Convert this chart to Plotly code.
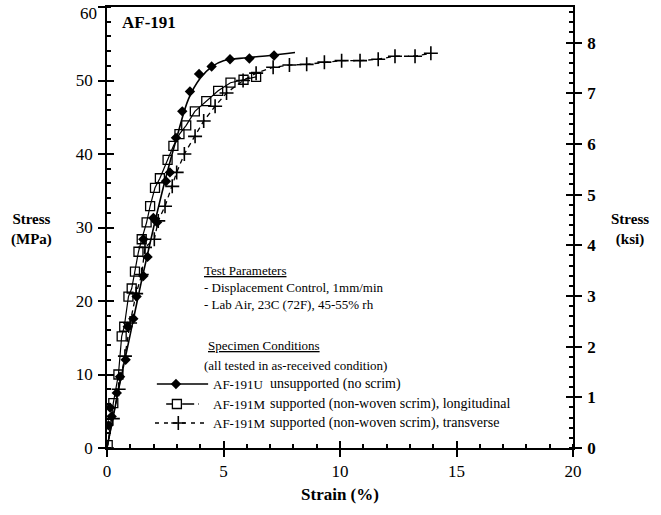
import plotly.graph_objects as go

# ---- data ----
u_x = [0.06, 0.2, 0.13, 0.42, 0.56, 0.8, 0.89, 1.13, 1.27, 1.56, 1.74, 1.56, 2.15, 1.99, 2.53, 2.7, 2.96, 3.23, 3.56, 3.95, 4.49, 5.28, 6.11, 7.17]
u_y = [3.1, 4.3, 5.5, 7.5, 9.7, 12.0, 16.5, 17.6, 20.6, 23.4, 26.0, 28.4, 30.7, 31.3, 36.3, 37.5, 42.2, 45.8, 48.5, 50.9, 51.9, 52.9, 53.0, 53.4]
u_fit_x = [0, 0.5, 1.0, 1.5, 2.0, 2.5, 3.0, 3.5, 4.0, 4.5, 5.0, 6.0, 7.0, 8.07]
u_fit_y = [0, 8.0, 15.5, 23.0, 30.0, 36.5, 42.3, 47.5, 50.3, 51.9, 52.7, 53.1, 53.4, 53.8]

ml_x = [0.03, 0.27, 0.49, 0.63, 0.74, 0.92, 1.06, 1.2, 1.35, 1.49, 1.7, 1.85, 2.06, 2.27, 2.6, 2.85, 3.11, 3.4, 3.77, 4.26, 4.77, 5.3, 5.86, 6.4]
ml_y = [0.4, 6.1, 10.0, 15.2, 16.5, 20.6, 21.7, 24.0, 26.7, 28.4, 30.7, 32.9, 35.4, 36.7, 39.2, 41.1, 42.7, 43.9, 45.8, 47.2, 48.6, 49.7, 50.1, 50.5]

mt_x = [0.0, 0.25, 0.5, 0.77, 0.99, 1.25, 1.49, 1.63, 2.03, 2.2, 2.49, 2.8, 2.99, 3.32, 3.78, 4.15, 4.64, 5.13, 5.84, 6.4, 7.13, 7.83, 8.57, 9.33, 10.07, 10.86, 11.64, 12.36, 13.22, 13.9]
mt_y = [0.0, 4.0, 8.0, 12.5, 17.0, 21.0, 23.6, 27.3, 28.4, 30.9, 32.9, 35.6, 37.5, 40.0, 42.4, 44.5, 46.5, 48.3, 50.0, 51.0, 51.8, 52.1, 52.2, 52.5, 52.7, 52.7, 52.9, 53.3, 53.3, 53.7]

x_ticks = [0, 5, 10, 15, 20]
mpa_ticks = [0, 10, 20, 30, 40, 50, 60]
mpa_labels = ["0", "10", "20", "30", "40", "50", ""]   # "60" drawn separately, just below the top edge
ksi_ticks = [0, 1, 2, 3, 4, 5, 6, 7, 8]
MPA_PER_KSI = 6.895

SERIF = "Liberation Serif"
fig = go.Figure()

fig.add_trace(go.Scatter(x=u_fit_x, y=u_fit_y, mode="lines", line=dict(color="black", width=1.6), line_shape="spline", showlegend=False))
fig.add_trace(go.Scatter(x=u_x, y=u_y, mode="markers", marker=dict(symbol="diamond", size=8, color="black"), showlegend=False))
fig.add_trace(go.Scatter(x=ml_x, y=ml_y, mode="lines+markers", line=dict(color="black", width=1.2),
                         marker=dict(symbol="square-open", size=9, color="black", line=dict(width=1.3)), showlegend=False))
fig.add_trace(go.Scatter(x=mt_x, y=mt_y, mode="lines+markers", line=dict(color="black", width=1.3, dash="5px,4px"),
                         marker=dict(symbol="cross-thin-open", size=10, color="black", line=dict(width=1.6, color="black")), showlegend=False))

# legend samples on a paper-like overlay axis
leg_y = [0.145, 0.0998, 0.0567]
fig.add_trace(go.Scatter(x=[0.107, 0.217], y=[leg_y[0]] * 2, mode="lines", line=dict(color="black", width=1.5), xaxis="x4", yaxis="y4", showlegend=False))
fig.add_trace(go.Scatter(x=[0.148], y=[leg_y[0]], mode="markers", marker=dict(symbol="diamond", size=8, color="black"), xaxis="x4", yaxis="y4", showlegend=False))
fig.add_trace(go.Scatter(x=[0.127, 0.197], y=[leg_y[1]] * 2, mode="lines", line=dict(color="black", width=1.3, dash="12px,4px"), xaxis="x4", yaxis="y4", showlegend=False))
fig.add_trace(go.Scatter(x=[0.150], y=[leg_y[1]], mode="markers", marker=dict(symbol="square", size=9, color="white", line=dict(width=1.3, color="black")), xaxis="x4", yaxis="y4", showlegend=False))
fig.add_trace(go.Scatter(x=[0.103, 0.217], y=[leg_y[2]] * 2, mode="lines", line=dict(color="black", width=1.3, dash="4px,5px"), xaxis="x4", yaxis="y4", showlegend=False))
fig.add_trace(go.Scatter(x=[0.153], y=[leg_y[2]], mode="markers", marker=dict(symbol="cross-thin-open", size=10, color="black", line=dict(width=1.6, color="black")), xaxis="x4", yaxis="y4", showlegend=False))

tickfont = dict(family=SERIF, size=17, color="black")
boldtick = dict(family=SERIF, size=17, color="black", weight="bold")

fig.update_layout(
    width=661, height=515,
    margin=dict(l=107, r=88, t=7, b=67, autoexpand=False),
    paper_bgcolor="white", plot_bgcolor="white",
    xaxis=dict(range=[0, 20], tickvals=x_ticks, ticks="outside", ticklen=7, tickwidth=1.5, tickcolor="black",
               showline=True, linecolor="black", linewidth=1.5, mirror=True, showgrid=False, zeroline=False,
               tickfont=tickfont, ticklabelstandoff=0, automargin=False, ticklabeloverflow="allow",
               minor=dict(dtick=1, ticks="inside", ticklen=4, tickcolor="black", showgrid=False),
               title=dict(text="<b>Strain (%)</b>", font=dict(family=SERIF, size=17, color="black"), standoff=8)),
    yaxis=dict(range=[0, 60], tickvals=mpa_ticks, ticktext=mpa_labels, ticks="outside", ticklen=7, tickwidth=1.5, tickcolor="black",
               showline=True, linecolor="black", linewidth=1.5, showgrid=False, zeroline=False,
               tickfont=tickfont, ticklabelstandoff=2, automargin=False, ticklabeloverflow="allow",
               minor=dict(dtick=2, ticks="inside", ticklen=4, tickcolor="black", showgrid=False)),
    yaxis2=dict(range=[0, 60 / MPA_PER_KSI], tickvals=ksi_ticks, overlaying="y", side="right", anchor="x",
                ticks="outside", ticklen=7, tickwidth=1.5, tickcolor="black", automargin=False,
                showline=True, linecolor="black", linewidth=1.5, showgrid=False, zeroline=False,
                tickfont=boldtick, ticklabelstandoff=2, ticklabeloverflow="allow",
                minor=dict(dtick=0.2, ticks="inside", ticklen=4, tickcolor="black", showgrid=False)),
    xaxis3=dict(range=[0, 20], tickvals=x_ticks, overlaying="x", anchor="y", ticks="inside", ticklen=7, tickwidth=1.5,
                tickcolor="black", showticklabels=False, showgrid=False, zeroline=False, showline=False),
    yaxis3=dict(range=[0, 60], tickvals=mpa_ticks, overlaying="y", anchor="x", ticks="inside", ticklen=7, tickwidth=1.5,
                tickcolor="black", showticklabels=False, showgrid=False, zeroline=False, showline=False),
    yaxis5=dict(range=[0, 60 / MPA_PER_KSI], tickvals=ksi_ticks, overlaying="y", side="right", anchor="x",
                ticks="inside", ticklen=7, tickwidth=1.5, tickcolor="black", showticklabels=False,
                showgrid=False, zeroline=False, showline=False),
    xaxis4=dict(range=[0, 1], overlaying="x", visible=False, anchor="y4"),
    yaxis4=dict(range=[0, 1], overlaying="y", visible=False, anchor="x4"),
    showlegend=False,
)

# dummy traces to activate overlay tick axes
fig.add_trace(go.Scatter(x=[None], y=[None], xaxis="x3", yaxis="y3", showlegend=False))
fig.add_trace(go.Scatter(x=[None], y=[None], xaxis="x", yaxis="y2", showlegend=False))
fig.add_trace(go.Scatter(x=[None], y=[None], xaxis="x", yaxis="y5", showlegend=False))

def ann(text, x, y, size=13, xanchor="left", align="left", bold=False):
    fig.add_annotation(text=f"<b>{text}</b>" if bold else text, x=x, y=y, xref="paper", yref="paper",
                       xanchor=xanchor, yanchor="middle", showarrow=False, align=align,
                       font=dict(family=SERIF, size=size, color="black"))

def px_x(p):
    return (p - 107) / 466.0

def px_y(p):
    return (448 - p) / 441.0

ann("60", px_x(99), px_y(13), size=17, xanchor="right")
ann("AF-191", px_x(120), px_y(22), size=17, bold=True)
ann("Stress<br>(MPa)", px_x(31), px_y(229), size=15, xanchor="center", align="center", bold=True)
ann("Stress<br>(ksi)", px_x(630), px_y(229), size=15, xanchor="center", align="center", bold=True)

ann("<u>Test Parameters</u>", px_x(202), px_y(270))
ann("- Displacement Control, 1mm/min", px_x(202), px_y(287))
ann("- Lab Air, 23C (72F), 45-55% rh", px_x(202), px_y(304))
ann("<u>Specimen Conditions</u>", px_x(206), px_y(345))
ann("(all tested in as-received condition)", px_x(202), px_y(365))
rows_py = [384, 404, 423]
ids = ["AF-191U", "AF-191M", "AF-191M"]
descs = ["unsupported (no scrim)", "supported (non-woven scrim), longitudinal", "supported (non-woven scrim), transverse"]
for py, i, d in zip(rows_py, ids, descs):
    ann(i, px_x(211), px_y(py), size=13)
    ann(d, px_x(268), px_y(py), size=14)

fig.write_html("out.html", config={"displayModeBar": False},
               post_script="document.body.style.margin='0';document.body.style.overflow='hidden';")
